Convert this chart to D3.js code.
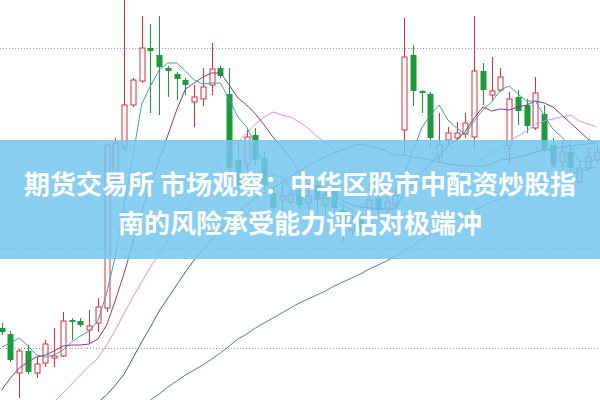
<!DOCTYPE html>
<html><head><meta charset="utf-8">
<script src="https://cdn.jsdelivr.net/npm/d3@7"></script>
<style>html,body{margin:0;padding:0;background:#fff;overflow:hidden}</style>
</head><body><svg id="c" width="600" height="400"></svg>
<script>
// ---- data ----
const openP = [10.20,10.14,9.75,9.97,9.75,9.85,9.90,9.92,10.28,10.27,
10.18,10.25,10.40,11.68,12.01,12.43,12.67,13.00,12.93,12.80,
12.74,12.68,12.46,12.49,12.63,12.80,12.54,11.88,11.83,12.13,
11.90,11.55,11.48,11.46,11.58,11.45,11.63,11.43,11.58,11.38,
11.18,11.30,11.38,11.50,11.40,11.43,12.18,12.93,12.57,12.54,
11.91,12.08,12.10,12.14,12.11,12.77,12.53,12.58,12.02,12.51,
12.43,12.20,12.34,12.03,11.86,11.96,11.66,11.80,11.88];
const highP = [10.25,10.17,9.99,10.03,9.91,10.08,10.20,10.36,10.30,10.30,
10.38,10.50,12.05,12.10,13.50,12.70,13.32,13.24,13.32,12.82,
12.76,12.70,12.63,12.80,13.05,12.82,12.80,12.05,12.18,12.20,
11.96,11.60,11.63,11.58,11.63,11.58,11.68,11.56,11.63,11.43,
11.33,11.38,11.65,11.53,11.52,11.60,13.30,13.03,12.58,12.56,
12.35,12.21,12.26,12.35,13.32,12.85,12.91,12.80,12.56,12.58,
12.49,12.71,12.43,12.10,12.08,12.08,11.85,12.00,12.03];
const lowP = [10.13,9.86,9.50,9.74,9.70,9.81,9.81,9.91,10.08,10.21,
10.05,10.16,10.36,11.63,11.98,12.41,12.65,12.35,12.33,12.51,
12.48,12.53,12.21,12.42,12.53,12.70,11.68,11.55,11.78,11.83,
11.58,11.36,11.38,11.43,11.38,11.38,11.35,11.33,11.35,11.06,
11.13,11.16,11.36,11.33,11.36,11.40,11.93,12.42,12.35,12.00,
11.85,12.03,12.08,12.10,12.00,12.43,12.48,12.56,11.85,12.23,
12.15,12.18,11.95,11.80,11.80,11.73,11.63,11.75,11.85];
const closeP = [10.16,9.88,9.97,9.76,9.84,10.04,9.92,10.27,10.26,10.23,
10.22,10.41,12.03,12.05,12.43,12.68,13.00,12.97,12.81,12.77,
12.69,12.63,12.51,12.61,12.79,12.72,11.80,11.63,12.11,11.88,
11.63,11.40,11.52,11.53,11.43,11.52,11.48,11.53,11.40,11.23,
11.25,11.20,11.48,11.38,11.46,11.53,12.91,12.57,12.55,12.10,
12.03,12.15,12.15,12.25,12.77,12.58,12.57,12.71,12.49,12.37,
12.22,12.55,11.98,11.83,11.96,11.80,11.80,11.91,11.96];

const ma5 = [10.01,10.05,10.10,10.02,9.93,9.91,9.93,9.98,10.06,10.12,
10.17,10.27,10.55,10.92,11.43,11.92,12.44,12.62,12.78,12.85,
12.85,12.77,12.68,12.64,12.65,12.65,12.49,12.31,12.21,12.03,
11.81,11.73,11.71,11.59,11.50,11.48,11.50,11.50,11.47,11.43,
11.38,11.32,11.31,11.31,11.35,11.41,11.75,11.97,12.20,12.33,
12.43,12.28,12.20,12.14,12.27,12.38,12.46,12.58,12.62,12.54,
12.47,12.47,12.32,12.19,12.11,12.02,11.87,11.86,11.89];
const ma10 = [9.58,9.70,9.80,9.86,9.91,9.93,9.97,10.02,10.03,10.03,
10.04,10.09,10.23,10.48,10.75,11.05,11.36,11.63,11.88,12.13,
12.38,12.59,12.65,12.71,12.75,12.75,12.63,12.50,12.43,12.34,
12.23,12.11,12.01,11.90,11.76,11.64,11.61,11.60,11.53,11.47,
11.43,11.41,11.40,11.39,11.39,11.39,11.54,11.64,11.76,11.84,
11.92,12.02,12.08,12.17,12.30,12.41,12.37,12.39,12.38,12.41,
12.43,12.47,12.45,12.41,12.33,12.25,12.17,12.09,12.04];
const ma20 = [null,null,null,null,null,null,9.46,9.55,9.64,9.73,
9.82,9.90,10.03,10.18,10.35,10.51,10.66,10.81,10.94,11.08,
11.21,11.35,11.48,11.62,11.77,11.90,11.99,12.06,12.15,12.24,
12.31,12.36,12.33,12.31,12.26,12.20,12.12,12.05,11.98,11.90,
11.83,11.76,11.71,11.65,11.58,11.52,11.58,11.62,11.64,11.66,
11.68,11.71,11.74,11.78,11.85,11.90,11.95,12.01,12.07,12.12,
12.17,12.24,12.27,12.29,12.31,12.33,12.27,12.24,12.21];
const ma30 = [null,null,null,null,null,null,null,null,null,null,
9.38,9.46,9.53,9.63,9.74,9.90,10.06,10.21,10.37,10.50,
10.63,10.76,10.88,10.98,11.08,11.18,11.27,11.35,11.43,11.50,
11.55,11.60,11.65,11.71,11.77,11.82,11.87,11.91,11.95,11.98,
12.02,12.04,12.02,12.00,11.97,11.93,11.93,11.91,11.90,11.88,
11.86,11.84,11.83,11.82,11.82,11.82,11.84,11.88,11.89,11.91,
11.93,11.96,11.98,11.99,12.01,12.02,12.03,12.04,12.06];
const ma60 = [null,null,null,null,null,null,null,null,null,null,
null,null,null,null,null,null,9.42,9.48,9.54,9.61,
9.67,9.73,9.78,9.83,9.89,9.95,10.02,10.09,10.14,10.20,
10.25,10.30,10.35,10.40,10.45,10.49,10.53,10.57,10.62,10.66,
10.70,10.74,10.79,10.83,10.87,10.92,10.97,11.02,11.08,11.14,
11.20,11.25,11.30,11.34,11.38,11.42,11.46,11.49,11.53,11.57,
11.60,11.63,11.66,11.69,11.72,11.74,11.77,11.79,11.81];

const gridValues = [13, 12, 11, 10];
const titleLines = ["期货交易所 市场观察：中华区股市中配资炒股指", "南的风险承受能力评估对极端冲"];

// ---- drawing ----
const W = 600, H = 400;
const svg = d3.select("#c");
const idx = d3.range(openP.length);
const x = d3.scaleLinear().domain([0, openP.length - 1]).range([1.7, 596.7]);
const y = d3.scaleLinear().domain([9.48, 13.48]).range([H, 0]);

svg.append("defs").append("clipPath").attr("id", "pc")
  .append("rect").attr("x", 0).attr("y", 0).attr("width", W).attr("height", H);
const plot = svg.append("g").attr("clip-path", "url(#pc)");

// grid
plot.selectAll("line.grid").data(gridValues).join("line")
  .attr("class", "grid")
  .attr("x1", 0).attr("x2", W)
  .attr("y1", d => Math.round(y(d)) + 0.5).attr("y2", d => Math.round(y(d)) + 0.5)
  .attr("stroke", "#9a9a9a").attr("stroke-width", 1).attr("stroke-dasharray", "1,2");

const UP = "#d6323a", DOWN = "#1d9a3a";
const cx = i => Math.round(x(i)) + 0.5;
const g = plot.append("g");
const c = g.selectAll("g.c").data(idx).join("g").attr("class", "c");
c.append("line")
  .attr("x1", cx).attr("x2", cx)
  .attr("y1", i => y(highP[i])).attr("y2", i => y(lowP[i]))
  .attr("stroke", i => closeP[i] >= openP[i] ? UP : DOWN).attr("stroke-width", 1);
c.append("rect")
  .attr("x", i => closeP[i] >= openP[i] ? cx(i) - 2.5 : cx(i) - 3)
  .attr("width", i => closeP[i] >= openP[i] ? 5 : 6)
  .attr("y", i => y(Math.max(openP[i], closeP[i])))
  .attr("height", i => Math.max(1, Math.abs(y(openP[i]) - y(closeP[i]))))
  .attr("fill", i => closeP[i] >= openP[i] ? "#ffffff" : DOWN)
  .attr("stroke", i => closeP[i] >= openP[i] ? UP : "none")
  .attr("stroke-width", 1);

// moving averages
const series = [
  {v: ma60, color: "#4a8798"},
  {v: ma30, color: "#2f7a3c"},
  {v: ma20, color: "#e38ee3"},
  {v: ma10, color: "#873a86"},
  {v: ma5,  color: "#3f9db4"}
];
const line = d3.line().defined(d => d[1] != null).x(d => x(d[0])).y(d => y(d[1]));
series.forEach(s => {
  plot.append("path").datum(idx.map(i => [i, s.v[i]]))
    .attr("d", line).attr("fill", "none")
    .attr("stroke", s.color).attr("stroke-width", 1);
});

// banner
svg.append("rect").attr("x", 0).attr("y", 140).attr("width", W).attr("height", 119)
  .attr("fill", "#74c6ee").attr("fill-opacity", 0.86);
svg.selectAll("text.t").data(titleLines).join("text")
  .attr("class", "t")
  .attr("x", 300).attr("y", (d, i) => 182 + i * 39.5)
  .attr("text-anchor", "middle").attr("dominant-baseline", "central")
  .attr("font-family", "'Noto Sans CJK SC', 'Noto Sans', sans-serif")
  .attr("font-weight", 700).attr("font-size", 26).attr("fill", "#ffffff")
  .text(d => d);
</script></body></html>
